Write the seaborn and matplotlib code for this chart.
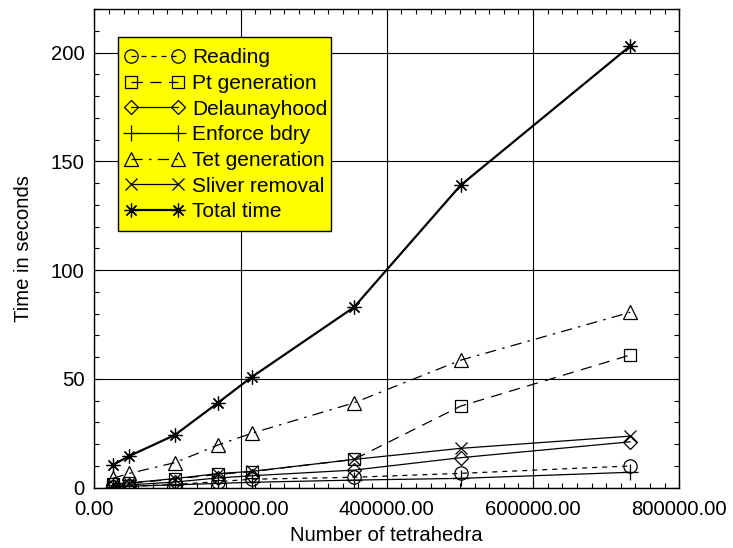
import matplotlib
matplotlib.use("Agg")
import matplotlib.pyplot as plt
import seaborn as sns
import numpy as np
from matplotlib.ticker import MultipleLocator, FormatStrFormatter
from matplotlib.patches import Rectangle

sns.set_style("ticks")
plt.rcParams['font.family'] = ['Liberation Sans', 'DejaVu Sans']
plt.rcParams['text.color'] = 'k'
plt.rcParams['axes.labelcolor'] = 'k'

n_tets = [25000, 48000, 110000, 169000, 215000, 355000, 501000, 733000]
reading = [0.4, 0.6, 1.5, 2.8, 3.9, 4.8, 6.6, 10.0]
pt_generation = [1.5, 2.0, 4.0, 6.1, 7.4, 13.0, 37.5, 61.0]
delaunayhood = [1.0, 1.3, 2.6, 4.5, 5.5, 8.1, 13.8, 21.1]
enforce_bdry = [0.5, 0.7, 1.3, 2.0, 2.5, 3.5, 4.3, 7.1]
tet_generation = [4.3, 6.6, 11.5, 19.6, 25.0, 39.0, 58.6, 80.6]
sliver_removal = [1.8, 2.2, 4.2, 6.5, 7.5, 13.0, 18.1, 23.7]
total_time = [10.4, 14.6, 24.2, 39.0, 50.8, 82.9, 139.0, 203.0]

labels = ["Reading", "Pt generation", "Delaunayhood", "Enforce bdry",
          "Tet generation", "Sliver removal", "Total time"]
series = [reading, pt_generation, delaunayhood, enforce_bdry,
          tet_generation, sliver_removal, total_time]

styles = [
    dict(marker='o', ms=9.6, linestyle=(0, (4, 4)), lw=0.9),
    dict(marker='s', ms=9.2, linestyle=(0, (9, 6)), lw=0.9),
    dict(marker='D', ms=7.0, linestyle='-', lw=0.9),
    dict(marker='+', ms=11, linestyle='-', lw=0.9),
    dict(marker='^', ms=10.5, linestyle=(0, (9, 5, 2, 5)), lw=0.9),
    dict(marker='x', ms=8.6, linestyle='-', lw=0.9),
    dict(marker=(8, 2, 0), ms=10, linestyle='-', lw=1.6),
]

fig = plt.figure(figsize=(7.33, 5.48), dpi=100)
ax = fig.add_axes([0.1287, 0.110, 0.9267 - 0.1287, 0.9836 - 0.110])

for lab, vals, st in zip(labels, series, styles):
    sns.lineplot(x=n_tets, y=vals, ax=ax, color='k', label=lab,
                 marker=st['marker'], markersize=st['ms'],
                 linestyle=st['linestyle'], linewidth=st['lw'],
                 markerfacecolor='none', markeredgecolor='k',
                 markeredgewidth=0.9)

ax.set_xlim(0, 800000)
ax.set_ylim(0, 220)
ax.xaxis.set_major_locator(MultipleLocator(200000))
ax.xaxis.set_minor_locator(MultipleLocator(20000))
ax.yaxis.set_major_locator(MultipleLocator(50))
ax.yaxis.set_minor_locator(MultipleLocator(10))
ax.xaxis.set_major_formatter(FormatStrFormatter('%.2f'))
ax.grid(True, which='major', color='k', linewidth=0.8)
ax.tick_params(which='both', direction='in', top=True, right=True,
               labelsize=14.6, colors='k')
ax.tick_params(axis='x', pad=9)
ax.tick_params(axis='y', pad=7)
ax.tick_params(which='major', length=5, width=0.8)
ax.tick_params(which='minor', length=3.5, width=0.8)
for s in ax.spines.values():
    s.set_color('k')
    s.set_linewidth(1.0)

ax.set_xlabel("Number of tetrahedra", fontsize=14.6, labelpad=5, color='k')
ax.set_ylabel("Time in seconds", fontsize=14.6, labelpad=13, color='k')

# yellow legend box
x0, x1 = (118 - 94.3) / 585, (331 - 94.3) / 585
ytop, ybot = (487.7 - 37) / 478.7, (487.7 - 231) / 478.7
box = Rectangle((x0, ybot), x1 - x0, ytop - ybot, transform=ax.transAxes,
                facecolor='yellow', edgecolor='k', linewidth=1.0, zorder=4.5)
ax.add_patch(box)

leg = ax.legend(loc='upper left', bbox_to_anchor=(0.0405, 0.9311),
                borderaxespad=0, numpoints=2, fontsize=15,
                handlelength=2.9, handletextpad=0.35, labelspacing=0.32,
                borderpad=0.3, frameon=False)
leg.set_zorder(5)
for t in leg.get_texts():
    t.set_color('k')

fig.savefig("out.png", dpi=100)
